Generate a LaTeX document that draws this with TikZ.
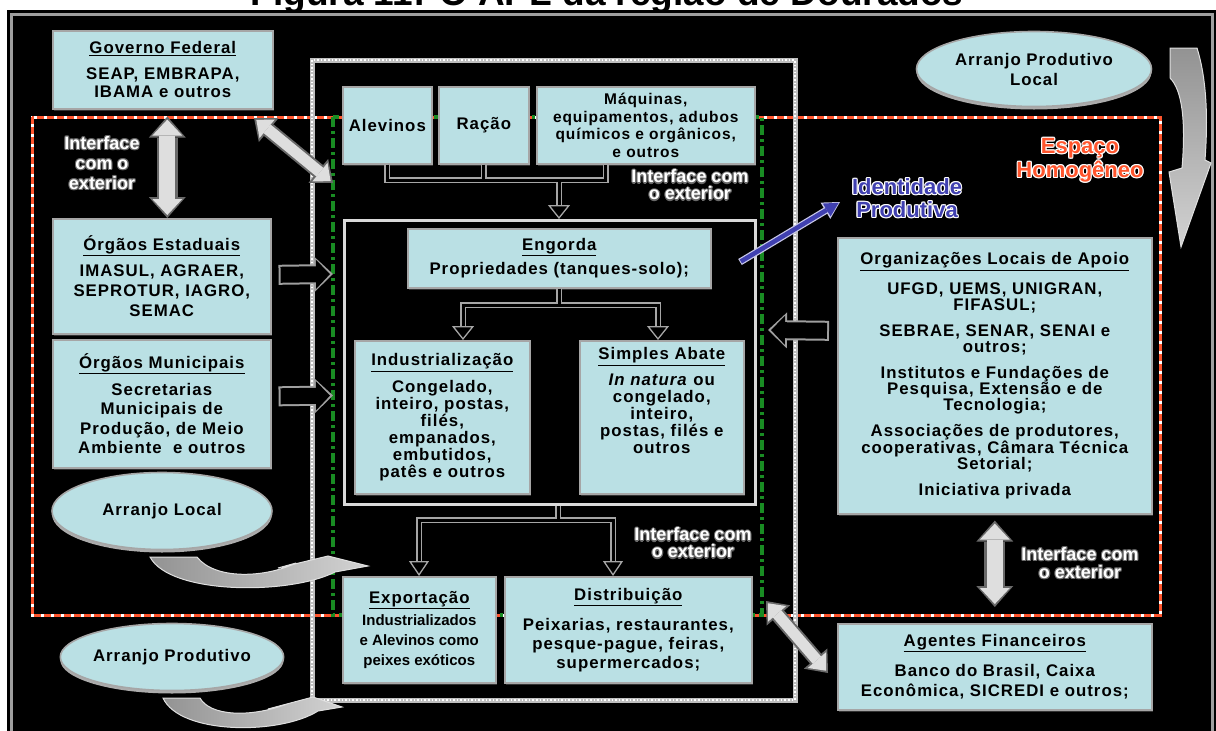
\documentclass[tikz,border=0pt]{standalone}
\usepackage{fontspec}
\setmainfont{Liberation Sans}
\newfontfamily\bx[LetterSpace=6]{Liberation Sans}
\usetikzlibrary{arrows.meta,shapes.geometric}
\definecolor{boxfill}{RGB}{186,224,228}
\definecolor{hred}{RGB}{255,85,45}
\definecolor{dgreen}{RGB}{25,140,35}
\definecolor{idblue}{RGB}{64,64,176}
\definecolor{arrlight}{RGB}{222,222,222}
\definecolor{arrdark}{RGB}{105,105,105}
\newcommand{\olab}[6]{%
  \foreach \ox/\oy in {-1.2/0,1.2/0,0/-1.2,0/1.2,0.85/0.85,-0.85/-0.85,0.85/-0.85,-0.85/0.85}{%
    \node[align=center, inner sep=0pt, font=#5, text=#4, xshift=\ox pt, yshift=\oy pt] at (#2) {#6};}
  \node[align=center, inner sep=0pt, font=#5, text=#3] (#1) at (#2) {#6};}
\newcommand{\smx}{\rmfamily\bfseries\fontsize{15}{20}\selectfont}
\tikzset{
  box/.style={rectangle, fill=boxfill, draw=gray!70, line width=1.6pt, align=center, inner sep=0pt,
    anchor=north west, text=black,
    preaction={fill=gray!40!black, transform canvas={shift={(1.5pt,-2pt)}}}},
  bfont/.style={font=\bx\bfseries\fontsize{16.8}{#1}\selectfont},
  ell/.style={ellipse, fill=boxfill, draw=gray!70, line width=1.6pt, align=center, inner sep=0pt,
    font=\bx\bfseries\fontsize{16.8}{20}\selectfont,
    preaction={fill=gray!65, transform canvas={yshift=-3pt}}},
  conn/.style={draw=black, line width=3pt, preaction={draw=gray!70, line width=6pt}},
  ctip/.style={draw=gray!70, line width=1.3pt, -{Triangle[length=14pt, width=22pt, fill=black]}},
  bdo/.style={draw=arrdark, line width=21pt,
    {Triangle[length=21pt, width=37pt, line width=0pt]}-{Triangle[length=21pt, width=37pt, line width=0pt]}},
  bdi/.style={draw=arrlight, line width=16pt, shorten <=3pt, shorten >=3pt,
    {Triangle[length=16pt, width=30pt, line width=0pt]}-{Triangle[length=16pt, width=30pt, line width=0pt]}},
  bdosm/.style={draw=arrdark, line width=15pt,
    {Triangle[length=19pt, width=31pt, line width=0pt]}-{Triangle[length=19pt, width=31pt, line width=0pt]}},
  bdism/.style={draw=arrlight, line width=11pt, shorten <=3pt, shorten >=3pt,
    {Triangle[length=14pt, width=24pt, line width=0pt]}-{Triangle[length=14pt, width=24pt, line width=0pt]}},
  sao/.style={draw=gray!75, line width=20pt, -{Triangle[length=19pt, width=36pt, line width=0pt]}},
  sai/.style={draw=black, line width=16pt, shorten <=2pt, shorten >=3pt,
    -{Triangle[length=14pt, width=29pt, line width=0pt]}},
  curv/.style={draw=white!75!gray, line width=1pt, left color=gray!85, right color=gray!35},
  curvv/.style={draw=white!75!gray, line width=1pt, top color=gray!85, bottom color=gray!35},
}
\begin{document}
\begin{tikzpicture}[x=1pt,y=-1pt]
\useasboundingbox (0,0) rectangle (1216,731);
\clip (0,0) rectangle (1216,731);
% title (cut by the frame)
\node[font=\bfseries\fontsize{37}{37}\selectfont, anchor=base, inner sep=0pt] (title) at (607,5) {Figura 11: O APL da região de Dourados};
% frame
\fill[black] (7,10) rectangle (1216,740);
\draw[gray!75, line width=3pt] (11.5,740) -- (11.5,14) -- (1212,14) -- (1212,740);
% regions
\draw[white, line width=3pt] (32,117) rectangle (1160,615);
\draw[hred, line width=3pt, dash pattern=on 7pt off 3pt] (32,117) rectangle (1160,615);
\draw[gray!50, line width=5pt] (312,60) rectangle (795,700);
\draw[white, line width=2pt, dash pattern=on 1.6pt off 2pt] (312,60) rectangle (795,700);
\draw[dgreen, line width=3.5pt, dash pattern=on 10pt off 4pt on 3pt off 4pt] (333,117) rectangle (762,615);
% central box
\node[rectangle, fill=black, draw=gray!30, line width=3pt, anchor=north west, minimum width=411, minimum height=284, inner sep=0pt] (cbox) at (343,219) {};
% boxes
\node[box, bfont=18, minimum width=220, minimum height=78] (gov) at (52,30)
  {\underline{Governo Federal}\\[8pt]SEAP, EMBRAPA,\\IBAMA e outros};
\node[box, bfont=20, minimum width=218, minimum height=115] (est) at (52,218)
  {\underline{Órgãos Estaduais}\\[6pt]IMASUL, AGRAER,\\SEPROTUR, IAGRO,\\SEMAC};
\node[box, bfont=19.5, minimum width=218, minimum height=128] (mun) at (52,339)
  {\underline{Órgãos Municipais}\\[7pt]Secretarias\\Municipais de\\Produção, de Meio\\Ambiente~ e outros};
\node[box, bfont=18, minimum width=89, minimum height=77] (alev) at (342,86) {Alevinos};
\node[box, bfont=18, minimum width=90, minimum height=77] (rac) at (438,86) {Ração};
\node[box, font=\bx\bfseries\fontsize{15.5}{17.5}\selectfont, minimum width=218, minimum height=77] (maq) at (536,86)
  {Máquinas,\\equipamentos, adubos\\químicos e orgânicos,\\e outros};
\node[box, bfont=18, minimum width=303, minimum height=59] (eng) at (407,228)
  {\underline{Engorda}\\[6pt]Propriedades (tanques-solo);};
\node[box, bfont=17, minimum width=175, minimum height=153] (ind) at (354,340)
  {\underline{Industrialização}\\[8pt]Congelado,\\inteiro, postas,\\filés,\\empanados,\\embutidos,\\patês e outros};
\node[box, bfont=17, minimum width=164, minimum height=153] (sim) at (579,340)
  {\underline{Simples Abate}\\[8pt]\textit{In natura} ou\\congelado,\\inteiro,\\postas, filés e\\outros\\[16pt]\mbox{}};
\node[box, bfont=20, minimum width=153, minimum height=106] (exp) at (342,576)
  {\underline{Exportação}\\[2pt]{\smx Industrializados}\\{\smx e Alevinos como}\\{\smx peixes exóticos}};
\node[box, bfont=19, minimum width=247, minimum height=106] (dist) at (504,576)
  {\underline{Distribuição}\\[11pt]Peixarias, restaurantes,\\pesque-pague, feiras,\\supermercados;};
\node[box, bfont=16, minimum width=314, minimum height=276] (org) at (837,237)
  {\underline{Organizações Locais de Apoio}\\[11pt]UFGD, UEMS, UNIGRAN,\\FIFASUL;\\[10pt]SEBRAE, SENAR, SENAI e\\outros;\\[10pt]Institutos e Fundações de\\Pesquisa, Extensão e de\\Tecnologia;\\[10pt]Associações de produtores,\\cooperativas, Câmara Técnica\\Setorial;\\[10pt]Iniciativa privada};
\node[box, bfont=20, minimum width=314, minimum height=86] (agt) at (837,623)
  {\underline{Agentes Financeiros}\\[10pt]Banco do Brasil, Caixa\\Econômica, SICREDI e outros;};
% ellipses
\node[ell, minimum width=220, minimum height=77] (arl) at (162,511) {Arranjo Local};
\node[ell, minimum width=219, minimum height=67] (arp) at (172,657) {Arranjo Produtivo};
\node[ell, minimum width=235, minimum height=75] (apl) at (1034,69) {Arranjo Produtivo\\Local};
% connector coordinates
\coordinate (tj) at (559,180);
\coordinate (mq) at ([xshift=-40pt]maq.south);
\coordinate (tt) at (tj |- cbox.north);
\coordinate (tb) at ([yshift=14pt]tt);
\coordinate (ejl) at (463,305);
\coordinate (ejr) at (658,305);
\coordinate (ejm) at (eng.south |- ejl);
\coordinate (il) at ([yshift=14pt]ejl |- ind.north);
\coordinate (ir) at ([yshift=14pt]ejr |- sim.north);
\coordinate (bj) at (558,520);
\coordinate (bs) at (bj |- cbox.south);
\coordinate (bl) at (419,520);
\coordinate (br) at (613,520);
\coordinate (blb) at ([yshift=15pt]bl |- exp.north);
\coordinate (brb) at ([yshift=15pt]br |- dist.north);
% connectors
\draw[conn] (alev.south) |- (tj) -| (mq) (rac.south) -- (rac.south |- tj) (tj) -- (tb);
\draw[ctip] (tb) -- (tt);
\draw[conn] (il) -- (ejl) -- (ejr) -- (ir) (eng.south) -- (ejm);
\draw[ctip] (il) -- (ejl |- ind.north);
\draw[ctip] (ir) -- (ejr |- sim.north);
\draw[conn] (blb) -- (bl) -- (br) -- (brb) (bs) -- (bj);
\draw[ctip, -{Triangle[length=15pt, width=20pt, fill=black]}] (blb) -- (bl |- exp.north);
\draw[ctip, -{Triangle[length=15pt, width=20pt, fill=black]}] (brb) -- (br |- dist.north);
% block arrows
\draw[bdo] ([xshift=4.5pt,yshift=-7pt]gov.south) -- ([xshift=5.5pt]est.north);
\draw[bdi] ([xshift=4.5pt,yshift=-7pt]gov.south) -- ([xshift=5.5pt]est.north);
\coordinate (d1a) at (254,118);
\coordinate (d1b) at (333,183);
\draw[bdosm] (d1a) -- (d1b);
\draw[bdism] (d1a) -- (d1b);
\draw[bdo] ([yshift=-6pt]org.south) -- ([yshift=16pt]agt.north);
\draw[bdi] ([yshift=-6pt]org.south) -- ([yshift=16pt]agt.north);
\coordinate (d2a) at (766,601);
\coordinate (d2b) at (828,673);
\draw[bdosm] (d2a) -- (d2b);
\draw[bdism] (d2a) -- (d2b);
\coordinate (ei) at (333,274);
\coordinate (mi) at (333,395.5);
\coordinate (oi) at (768,330);
\draw[sao] ([xshift=7pt,yshift=1.5pt]est.east) -- (ei);
\draw[sai] ([xshift=7pt,yshift=1.5pt]est.east) -- (ei);
\draw[sao] ([xshift=7pt,yshift=7.5pt]mun.east) -- (mi);
\draw[sai] ([xshift=7pt,yshift=7.5pt]mun.east) -- (mi);
\draw[sao] ([xshift=-8pt,yshift=45pt]org.west) -- (oi);
\draw[sai] ([xshift=-8pt,yshift=45pt]org.west) -- (oi);
% curved arrows
\draw[curv] (150,557) -- (197,557) .. controls (215,580) and (265,578) .. (296,563) -- (278,568) -- (328,556) -- (368,566) -- (335,572) .. controls (290,595) and (170,595) .. (150,557) -- cycle;
\draw[curv] (163,698) -- (200,698) .. controls (210,716) and (250,718) .. (287,704) -- (268,709) -- (313,697) -- (342,707) -- (318,711) .. controls (280,735) and (180,735) .. (163,698) -- cycle;
\draw[curvv] (1170,48) -- (1197,48) .. controls (1207,80) and (1208,120) .. (1205,160) -- (1211,163) -- (1181,247) -- (1169,172) -- (1182,168) .. controls (1186,120) and (1182,90) .. (1170,78) -- cycle;
% labels
\olab{if1}{102,163}{white}{arrdark}{\bfseries\fontsize{18}{20}\selectfont}{Interface\\com o\\exterior}
\olab{if2}{690,185}{white}{arrdark}{\bfseries\fontsize{18}{17}\selectfont}{Interface com\\o exterior}
\olab{if3}{693,543}{white}{arrdark}{\bfseries\fontsize{18}{17}\selectfont}{Interface com\\o exterior}
\olab{if4}{1080,563}{white}{arrdark}{\bfseries\fontsize{18}{18}\selectfont}{Interface com\\o exterior}
\olab{esp}{1080,160}{hred}{white}{\bfseries\fontsize{22}{24}\selectfont}{Espaço\\Homogêneo}
\olab{idp}{907,198}{idblue}{white}{\bfseries\fontsize{22}{23}\selectfont}{Identidade\\Produtiva}
% blue arrow
\coordinate (bt) at (740,262);
\coordinate (bh) at (840,202);
\draw[white!70!idblue, line width=7pt, -{Triangle[length=17pt, width=19pt, line width=0pt]}] (bt) -- (bh);
\draw[idblue, line width=4.5pt, shorten >=1.5pt, shorten <=1pt, -{Triangle[length=14pt, width=15pt, line width=0pt]}] (bt) -- (bh);
\end{tikzpicture}
\end{document}
